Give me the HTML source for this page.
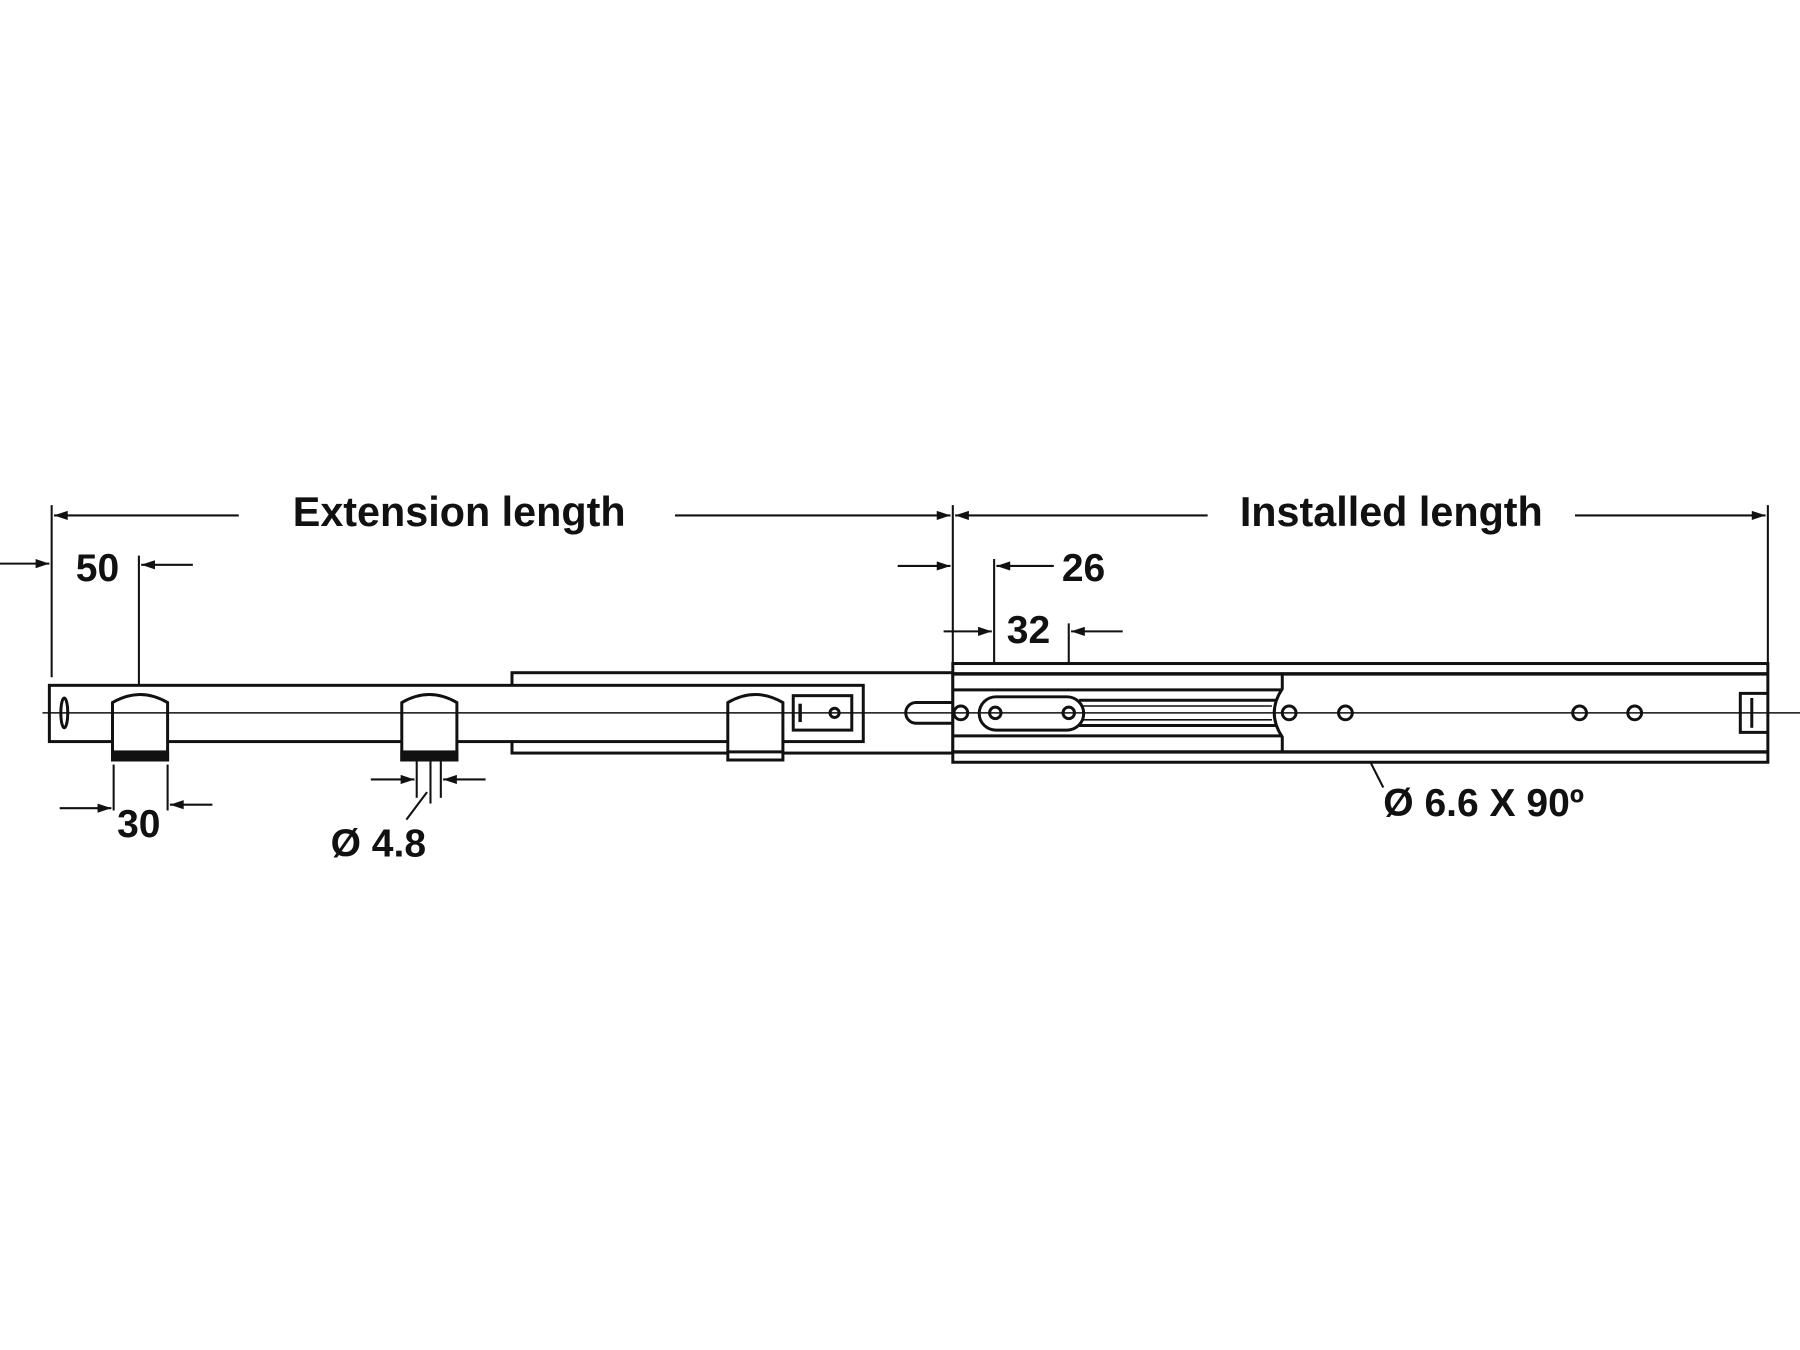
<!DOCTYPE html>
<html><head><meta charset="utf-8"><style>html,body{margin:0;padding:0;background:#fff}svg{display:block}</style></head>
<body>
<svg width="1800" height="1350" viewBox="0 0 1568 1176" xmlns="http://www.w3.org/2000/svg">
<defs>
<marker id="a" viewBox="0 0 12 8" refX="12" refY="4" markerWidth="13" markerHeight="8" markerUnits="userSpaceOnUse" orient="auto"><path d="M0,0L12,4L0,8z" fill="#111"/></marker>
</defs>
<g stroke="#111" fill="none" stroke-width="1.8">
<line x1="45" y1="440" x2="45" y2="590"/>
<line x1="830" y1="440" x2="830" y2="578"/>
<line x1="1540" y1="440" x2="1540" y2="578"/>
<line x1="208" y1="449" x2="47" y2="449" marker-end="url(#a)"/>
<line x1="588" y1="449" x2="828" y2="449" marker-end="url(#a)"/>
<line x1="1052" y1="449" x2="832" y2="449" marker-end="url(#a)"/>
<line x1="1372" y1="449" x2="1538" y2="449" marker-end="url(#a)"/>
<line x1="0" y1="491" x2="43" y2="491" marker-end="url(#a)"/>
<line x1="121" y1="484" x2="121" y2="662"/>
<line x1="168" y1="492" x2="123" y2="492" marker-end="url(#a)"/>
<line x1="782" y1="493" x2="828" y2="493" marker-end="url(#a)"/>
<line x1="866" y1="487" x2="866" y2="622"/>
<line x1="918" y1="493" x2="868" y2="493" marker-end="url(#a)"/>
<line x1="822" y1="550" x2="864" y2="550" marker-end="url(#a)"/>
<line x1="931" y1="543" x2="931" y2="622"/>
<line x1="978" y1="550" x2="933" y2="550" marker-end="url(#a)"/>
<line x1="99" y1="666" x2="99" y2="706"/>
<line x1="146" y1="666" x2="146" y2="706"/>
<line x1="52" y1="704" x2="97" y2="704" marker-end="url(#a)"/>
<line x1="185" y1="701" x2="148" y2="701" marker-end="url(#a)"/>
<line x1="363" y1="662" x2="363" y2="695"/>
<line x1="375" y1="655" x2="375" y2="700"/>
<line x1="384" y1="662" x2="384" y2="695"/>
<line x1="323" y1="679" x2="361" y2="679" marker-end="url(#a)"/>
<line x1="423" y1="679" x2="386" y2="679" marker-end="url(#a)"/>
<line x1="372" y1="690" x2="354" y2="714"/>
<line x1="1175" y1="627" x2="1205" y2="686"/>
</g>
<g stroke="#111" fill="none" stroke-width="2.6">
<rect x="446" y="586" width="384" height="70"/>
<rect x="43" y="597" width="709" height="49" fill="#fff"/>
<ellipse cx="56" cy="621" rx="3" ry="13"/>
<path d="M98,662V612Q122,598 146,612V662Z" fill="#fff"/>
<rect x="98" y="655" width="48" height="7" fill="#111"/>
<path d="M350,662V612Q374,598 398,612V662Z" fill="#fff"/>
<rect x="350" y="655" width="48" height="7" fill="#111"/>
<path d="M634,662V612Q658,598 682,612V662Z" fill="#fff"/>
<line x1="634" y1="655" x2="682" y2="655"/>
<rect x="691" y="606" width="51" height="30" fill="#fff"/>
<line x1="697" y1="613" x2="697" y2="629" stroke-width="3"/>
<circle cx="727" cy="621" r="4"/>
<path d="M830,612H798A9,9 0 0 0 798,630H830"/>
<rect x="830" y="578" width="710" height="86" fill="#fff"/>
<line x1="830" y1="587" x2="1540" y2="587" stroke-width="3"/>
<line x1="830" y1="655" x2="1540" y2="655" stroke-width="3"/>
<path d="M1117,587V600Q1103,621 1117,642V655"/>
<line x1="830" y1="601" x2="1117" y2="601"/>
<line x1="830" y1="641" x2="1117" y2="641"/>
<line x1="940" y1="610" x2="1112" y2="610"/>
<line x1="940" y1="632" x2="1112" y2="632"/>
<line x1="940" y1="615" x2="1108" y2="615" stroke-width="1.4"/>
<line x1="940" y1="627" x2="1108" y2="627" stroke-width="1.4"/>
<rect x="853" y="607" width="91" height="29" rx="14.5" fill="#fff"/>
<circle cx="867" cy="621" r="5"/>
<circle cx="931" cy="621" r="5"/>
<circle cx="837" cy="621" r="6"/>
<circle cx="1123" cy="621" r="6"/>
<circle cx="1172" cy="621" r="6"/>
<circle cx="1376" cy="621" r="6"/>
<circle cx="1424" cy="621" r="6"/>
<path d="M1540,604H1516V638H1540"/>
<line x1="1526" y1="608" x2="1526" y2="634"/>
</g>
<line x1="37" y1="621" x2="1568" y2="621" stroke="#111" stroke-width="1.4"/>
<line x1="830" y1="607" x2="830" y2="636" stroke="#111" stroke-width="1.4"/>
<g font-family="Liberation Sans, sans-serif" font-weight="bold" fill="#111">
<text x="400" y="458" font-size="36" text-anchor="middle">Extension length</text>
<text x="1212" y="458" font-size="36" text-anchor="middle">Installed length</text>
<g font-size="34">
<text x="66" y="506">50</text>
<text x="925" y="506">26</text>
<text x="877" y="560">32</text>
<text x="102" y="729">30</text>
<text x="288" y="746">Ø 4.8</text>
<text x="1205" y="711">Ø 6.6 X 90º</text>
</g>
</g>
</svg>
</body></html>
